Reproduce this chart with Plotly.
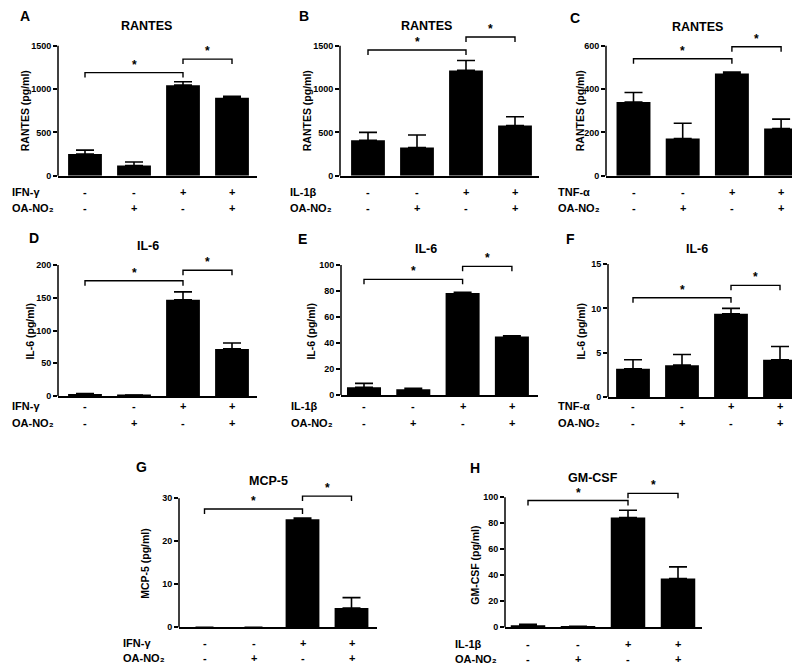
import plotly.graph_objects as go

W, H = 800, 666
FONT = "Liberation Sans"
EXT = 1.18

# ---------------- data ----------------
categories = [0, 1, 2, 3]
stim_signs = ['-', '-', '+', '+']
oa_signs = ['-', '+', '-', '+']

panel_letters = ['A', 'B', 'C', 'D', 'E', 'F', 'G', 'H']
titles = ['RANTES', 'RANTES', 'RANTES', 'IL-6', 'IL-6', 'IL-6', 'MCP-5', 'GM-CSF']
ytitles = ['RANTES (pg/ml)', 'RANTES (pg/ml)', 'RANTES (pg/ml)',
           'IL-6 (pg/ml)', 'IL-6 (pg/ml)', 'IL-6 (pg/ml)',
           'MCP-5 (pg/ml)', 'GM-CSF (pg/ml)']
stimuli = ['IFN-γ', 'IL-1β', 'TNF-α', 'IFN-γ', 'IL-1β', 'TNF-α', 'IFN-γ', 'IL-1β']
oa_label = 'OA-NO₂'

y_max = [1500, 1500, 600, 200, 100, 15, 30, 100]
y_dtick = [500, 500, 200, 50, 20, 5, 10, 20]

mean_A = [250, 118, 1045, 900]
err_A = [45, 40, 40, 15]
mean_B = [410, 325, 1215, 580]
err_B = [90, 145, 115, 100]
mean_C = [340, 172, 472, 218]
err_C = [44, 70, 7, 43]
mean_D = [3, 1, 147, 72]
err_D = [1, 0.5, 12, 9]
mean_E = [6, 4.5, 78.5, 45]
err_E = [3, 0.8, 0.5, 0.5]
mean_F = [3.2, 3.6, 9.4, 4.2]
err_F = [1.0, 1.2, 0.6, 1.5]
mean_G = [0, 0, 25.1, 4.5]
err_G = [None, None, 0.3, 2.4]
mean_H = [1.5, 0.5, 84.5, 37.5]
err_H = [0.8, 0.2, 5.5, 9]

means = [mean_A, mean_B, mean_C, mean_D, mean_E, mean_F, mean_G, mean_H]
errs = [err_A, err_B, err_C, err_D, err_E, err_F, err_G, err_H]

# significance brackets: (from bar, to bar, level)
sig_A = [(0, 2, 1190), (2, 3, 1345)]
sig_B = [(0, 2, 1450), (2, 3, 1600)]
sig_C = [(0, 2, 540), (2, 3, 595)]
sig_D = [(0, 2, 176), (2, 3, 192)]
sig_E = [(0, 2, 89), (2, 3, 99)]
sig_F = [(0, 2, 11.2), (2, 3, 12.6)]
sig_G = [(0, 2, 27.5), (2, 3, 30.5)]
sig_H = [(0, 2, 97.5), (2, 3, 103)]
sigs = [sig_A, sig_B, sig_C, sig_D, sig_E, sig_F, sig_G, sig_H]

# ---------------- layout geometry (pixels) ----------------
# xl: y-axis position, c0: first bar centre, sp: bar spacing, xr: x-axis end
# z: zero line, t: top tick
geo = [
    dict(xl=50, c0=77, sp=49, xr=249, z=169, t=38, let=(17, 8), tit=(138, 18), yt=(17, 104), rl=2, r1=185, r2=202),
    dict(xl=332, c0=360, sp=49, xr=531, z=169, t=38, let=(296, 8), tit=(418, 18), yt=(299, 104), rl=280, r1=185, r2=202),
    dict(xl=598, c0=625.5, sp=49.2, xr=793, z=169, t=38, let=(567, 10), tit=(689, 19), yt=(572, 104), rl=548, r1=185, r2=202),
    dict(xl=50, c0=77, sp=49, xr=249, z=391, t=259, let=(26, 232), tit=(140, 240), yt=(22, 326), rl=2, r1=401, r2=418),
    dict(xl=333, c0=356, sp=49.3, xr=530, z=390, t=259, let=(294, 233), tit=(418, 243), yt=(303, 326), rl=281, r1=401, r2=418),
    dict(xl=600, c0=625, sp=49, xr=793, z=392, t=258, let=(562, 233), tit=(689, 243), yt=(573, 326), rl=548, r1=401, r2=418),
    dict(xl=171, c0=196.5, sp=49, xr=369, z=624, t=494, let=(133, 462), tit=(260, 477), yt=(137, 560), rl=113, r1=640, r2=655),
    dict(xl=497, c0=520, sp=50, xr=694, z=624, t=493, let=(467, 463), tit=(585, 474), yt=(467, 562), rl=445, r1=641, r2=656),
]


def px(x):
    return x / W


def py(y):
    return 1 - y / H


fig = go.Figure()
annotations = []
shapes = []
layout_axes = {}

for i in range(8):
    k = i + 1
    g = geo[i]
    xr_name = 'x' if k == 1 else f'x{k}'
    yr_name = 'y' if k == 1 else f'y{k}'
    xa_key = 'xaxis' if k == 1 else f'xaxis{k}'
    ya_key = 'yaxis' if k == 1 else f'yaxis{k}'
    ymax = y_max[i]

    fig.add_trace(go.Bar(
        x=categories, y=means[i], xaxis=xr_name, yaxis=yr_name,
        width=0.69, marker=dict(color='black', line=dict(width=0)),
        error_y=dict(type='data', symmetric=False, array=errs[i],
                     arrayminus=[0] * 4, color='black', thickness=1.6, width=9),
        showlegend=False, hoverinfo='skip'))

    x_lo = (g['xl'] - g['c0']) / g['sp']
    x_hi = (g['xr'] - g['c0']) / g['sp']
    top_px = g['z'] - (g['z'] - g['t']) * EXT

    layout_axes[xa_key] = dict(
        domain=[px(g['xl']), px(g['xr'])], range=[x_lo, x_hi], anchor=yr_name,
        showline=True, linecolor='black', linewidth=1.5, ticks='',
        showticklabels=False, showgrid=False, zeroline=False, fixedrange=True)
    layout_axes[ya_key] = dict(
        domain=[py(g['z']), py(top_px)], range=[0, ymax * EXT], anchor=xr_name,
        tickvals=list(range(0, ymax + 1, y_dtick[i])),
        ticks='outside', ticklen=4, tickwidth=1.5, tickcolor='black',
        tickfont=dict(family=FONT, size=9, color='black', weight='bold'),
        showline=False, showgrid=False, zeroline=False, fixedrange=True)

    # y-axis line up to the top tick
    shapes.append(dict(type='line', xref=f'{xr_name} domain', yref=f'{yr_name} domain',
                       x0=0, x1=0, y0=0, y1=1 / EXT,
                       line=dict(color='black', width=1.5)))

    # significance brackets
    d = 5 / (g['z'] - g['t']) * ymax
    for a, b, lev in sigs[i]:
        shapes.append(dict(type='path', xref=xr_name, yref=yr_name,
                           path=f'M {a},{lev - d} L {a},{lev} L {b},{lev} L {b},{lev - d}',
                           line=dict(color='black', width=1.4)))
        annotations.append(dict(x=(a + b) / 2, y=lev, xref=xr_name, yref=yr_name,
                                text='*', showarrow=False, yanchor='bottom', yshift=-1,
                                font=dict(family=FONT, size=12, color='black', weight='bold')))

    # panel letter
    annotations.append(dict(x=px(g['let'][0]), y=py(g['let'][1]), xref='paper', yref='paper',
                            text=panel_letters[i], showarrow=False, xanchor='center', yanchor='middle',
                            font=dict(family=FONT, size=14, color='black', weight='bold')))
    # title
    annotations.append(dict(x=px(g['tit'][0]), y=py(g['tit'][1]), xref='paper', yref='paper',
                            text=titles[i], showarrow=False, xanchor='center', yanchor='middle',
                            font=dict(family=FONT, size=12.5, color='black', weight='bold')))
    # y-axis title
    annotations.append(dict(x=px(g['yt'][0]), y=py(g['yt'][1]), xref='paper', yref='paper',
                            text=ytitles[i], showarrow=False, xanchor='center', yanchor='middle',
                            textangle=-90,
                            font=dict(family=FONT, size=10.5, color='black', weight='bold')))
    # row labels
    annotations.append(dict(x=px(g['rl']), y=py(g['r1']), xref='paper', yref='paper',
                            text=stimuli[i], showarrow=False, xanchor='left', yanchor='middle',
                            font=dict(family=FONT, size=11, color='black', weight='bold')))
    annotations.append(dict(x=px(g['rl']), y=py(g['r2']), xref='paper', yref='paper',
                            text=oa_label, showarrow=False, xanchor='left', yanchor='middle',
                            font=dict(family=FONT, size=11, color='black', weight='bold')))
    for c, s1, s2 in zip(categories, stim_signs, oa_signs):
        annotations.append(dict(x=c, y=py(g['r1']), xref=xr_name, yref='paper',
                                text=s1, showarrow=False, xanchor='center', yanchor='middle',
                                font=dict(family=FONT, size=11, color='black', weight='bold')))
        annotations.append(dict(x=c, y=py(g['r2']), xref=xr_name, yref='paper',
                                text=s2, showarrow=False, xanchor='center', yanchor='middle',
                                font=dict(family=FONT, size=11, color='black', weight='bold')))

fig.update_layout(
    width=W, height=H, margin=dict(l=0, r=0, t=0, b=0),
    paper_bgcolor='white', plot_bgcolor='white',
    bargap=0.3, showlegend=False,
    annotations=annotations, shapes=shapes,
    **layout_axes)

fig.write_html("out.html")
